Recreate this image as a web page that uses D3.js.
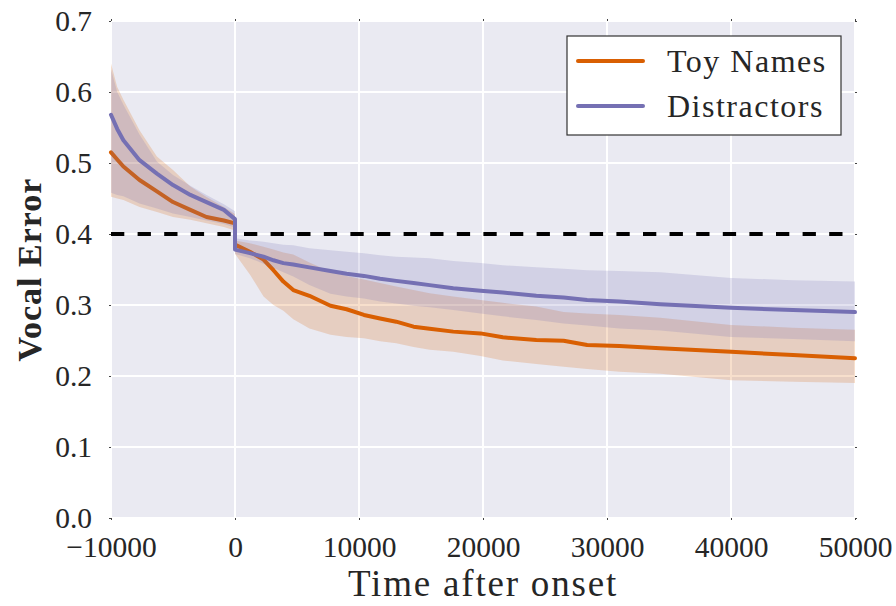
<!DOCTYPE html>
<html><head><meta charset="utf-8">
<script src="https://cdn.jsdelivr.net/npm/d3@7"></script>
<style>body{margin:0;background:#fff}</style></head>
<body>
<svg id="chart" width="896" height="606"></svg>
<script>
// ---- data ----
const times = [-10000,-9500,-9000,-7700,-6300,-5000,-3600,-2300,-900,0,
  0,1200,2300,3100,3900,4700,6000,7700,9000,10400,11700,13000,14400,15700,
  17600,19800,21600,24300,26500,28400,31000,34300,40000,45000,50000];
const toyMean = [0.515,0.505,0.495,0.476,0.460,0.445,0.434,0.424,0.419,0.415,
  0.385,0.375,0.364,0.349,0.333,0.321,0.313,0.299,0.294,0.286,0.281,0.2765,0.2695,0.2667,
  0.2625,0.260,0.2545,0.2507,0.2497,0.2437,0.2423,0.239,0.234,0.2296,0.225];
const toyLower = [0.4525,0.450,0.448,0.438,0.431,0.424,0.420,0.415,0.410,0.405,
  0.372,0.343,0.312,0.300,0.292,0.280,0.267,0.258,0.255,0.253,0.249,0.246,0.241,0.237,
  0.234,0.228,0.222,0.217,0.213,0.210,0.206,0.203,0.194,0.192,0.190];
const toyUpper = [0.640,0.607,0.589,0.546,0.509,0.490,0.467,0.452,0.438,0.428,
  0.391,0.387,0.382,0.378,0.374,0.371,0.360,0.347,0.341,0.336,0.331,0.326,0.321,0.3165,
  0.312,0.307,0.303,0.298,0.290,0.288,0.286,0.282,0.272,0.268,0.265];
const disMean = [0.568,0.548,0.532,0.504,0.485,0.469,0.455,0.445,0.434,0.421,
  0.378,0.373,0.368,0.363,0.359,0.357,0.353,0.348,0.344,0.341,0.337,0.334,0.331,0.328,
  0.3235,0.320,0.3175,0.313,0.3105,0.307,0.305,0.301,0.296,0.293,0.290];
const disLower = [0.458,0.455,0.453,0.443,0.436,0.429,0.424,0.419,0.414,0.409,
  0.372,0.366,0.358,0.352,0.346,0.340,0.328,0.316,0.312,0.309,0.305,0.302,0.299,0.297,
  0.293,0.288,0.284,0.279,0.274,0.271,0.267,0.264,0.255,0.252,0.249];
const disUpper = [0.632,0.600,0.582,0.540,0.502,0.483,0.468,0.455,0.442,0.432,
  0.394,0.391,0.389,0.387,0.385,0.384,0.380,0.377,0.375,0.373,0.370,0.368,0.367,0.366,
  0.362,0.359,0.356,0.353,0.351,0.349,0.348,0.346,0.338,0.335,0.333];
const seriesNames = ["Toy Names","Distractors"];
const seriesColors = ["#d95f02","#7570b3"];
const xTicks = [-10000,0,10000,20000,30000,40000,50000];
const yTicks = [0.0,0.1,0.2,0.3,0.4,0.5,0.6,0.7];
const threshold = 0.4;
const xLabel = "Time after onset";
const yLabel = "Vocal Error";

// ---- layout ----
const L = 111, R = 855, T = 21, B = 518;
const FONT = "'Liberation Serif', 'Times New Roman', serif";
const svg = d3.select("#chart");
const x = d3.scaleLinear().domain([-10000, 50000]).range([L, R]);
const y = d3.scaleLinear().domain([0, 0.7]).range([B, T]);

svg.append("rect").attr("x", L).attr("y", T).attr("width", R - L).attr("height", B - T)
  .attr("fill", "#eaeaf2");

// grid
svg.append("g").selectAll("line").data(xTicks).join("line")
  .attr("x1", d => x(d)).attr("x2", d => x(d)).attr("y1", T).attr("y2", B)
  .attr("stroke", "#fff").attr("stroke-width", 2);
svg.append("g").selectAll("line").data(yTicks).join("line")
  .attr("y1", d => y(d)).attr("y2", d => y(d)).attr("x1", L).attr("x2", R)
  .attr("stroke", "#fff").attr("stroke-width", 2);

// threshold
svg.append("line").attr("x1", x(-10000)).attr("x2", x(50000))
  .attr("y1", y(threshold)).attr("y2", y(threshold))
  .attr("stroke", "#000").attr("stroke-width", 4).attr("stroke-dasharray", "13.3 13.3");

const idx = d3.range(times.length);
const series = [
  {mean: toyMean, lo: toyLower, hi: toyUpper},
  {mean: disMean, lo: disLower, hi: disUpper}
];
series.forEach((s, k) => {
  const area = d3.area().x(i => x(times[i])).y0(i => y(s.lo[i])).y1(i => y(s.hi[i]));
  const line = d3.line().x(i => x(times[i])).y(i => y(s.mean[i]));
  svg.append("path").attr("d", area(idx)).attr("fill", seriesColors[k]).attr("fill-opacity", 0.2);
  svg.append("path").attr("d", line(idx)).attr("fill", "none")
    .attr("stroke", seriesColors[k]).attr("stroke-width", 4)
    .attr("stroke-linejoin", "round").attr("stroke-linecap", "round");
});

// axes
function styleAxis(g) {
  g.select(".domain").remove();
  g.selectAll(".tick line").attr("stroke", "#444");
  g.selectAll("text").attr("font-family", FONT).attr("font-size", 29.5).attr("fill", "#262626");
}
svg.append("g").attr("transform", `translate(0,${B})`)
  .call(d3.axisBottom(x).tickValues(xTicks).tickFormat(d3.format("d")).tickSize(2).tickPadding(16))
  .call(styleAxis);
svg.append("g").attr("transform", `translate(${L},0)`)
  .call(d3.axisLeft(y).tickValues(yTicks).tickFormat(d3.format(".1f")).tickSize(2).tickPadding(17))
  .call(styleAxis);
svg.append("g").attr("transform", `translate(0,${T})`)
  .call(d3.axisTop(x).tickValues(xTicks).tickFormat("").tickSize(2)).call(styleAxis);
svg.append("g").attr("transform", `translate(${R},0)`)
  .call(d3.axisRight(y).tickValues(yTicks).tickFormat("").tickSize(2)).call(styleAxis);

// axis titles
svg.append("text").attr("x", (L + R) / 2).attr("y", 596).attr("text-anchor", "middle")
  .attr("font-family", FONT).attr("font-size", 37).attr("letter-spacing", 1.8)
  .attr("fill", "#262626").text(xLabel);
svg.append("text").attr("transform", `translate(41,${(T + B) / 2}) rotate(-90)`)
  .attr("text-anchor", "middle").attr("font-family", FONT).attr("font-weight", "bold")
  .attr("font-size", 34).attr("letter-spacing", 1).attr("fill", "#262626").text(yLabel);

// legend
const lg = svg.append("g");
lg.append("rect").attr("x", 567).attr("y", 36).attr("width", 274).attr("height", 99)
  .attr("fill", "#fff").attr("stroke", "#333").attr("stroke-width", 1.2);
seriesNames.forEach((name, k) => {
  const yy = 61 + k * 45;
  lg.append("line").attr("x1", 578).attr("x2", 643).attr("y1", yy).attr("y2", yy)
    .attr("stroke", seriesColors[k]).attr("stroke-width", 4).attr("stroke-linecap", "round");
  lg.append("text").attr("x", 667).attr("y", yy).attr("dy", "0.33em")
    .attr("font-family", FONT).attr("font-size", 32).attr("letter-spacing", 1.5)
    .attr("fill", "#262626").text(name);
});
</script>
</body></html>
